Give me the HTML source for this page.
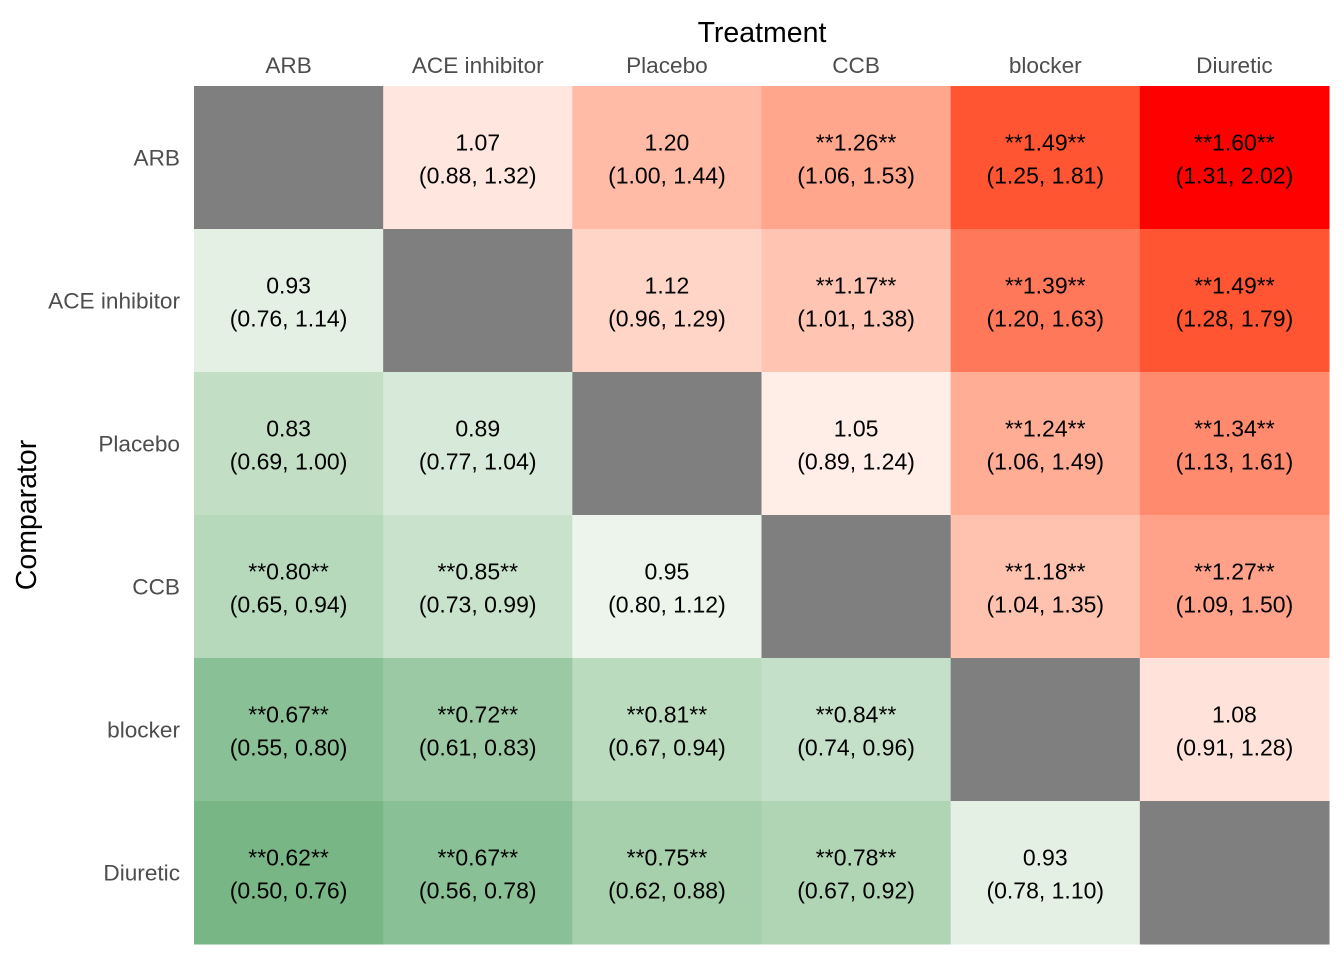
<!DOCTYPE html>
<html><head><meta charset="utf-8"><style>
body{margin:0;background:#fff;width:1344px;height:960px;overflow:hidden}
svg text{font-family:"Liberation Sans",Arial,sans-serif}
</style></head><body>
<svg id="chart" width="1344" height="960" xmlns="http://www.w3.org/2000/svg">
<text x="762" y="42" font-size="28.5" text-anchor="middle" fill="#000">Treatment</text>
<text transform="translate(36,515) rotate(-90)" font-size="28.5" text-anchor="middle" fill="#000">Comparator</text>
<g id="cells"></g>
</svg>
<script>
const categories = ["ARB","ACE inhibitor","Placebo","CCB","blocker","Diuretic"];
const estimates = [
 [null,1.07,1.20,1.26,1.49,1.60],
 [0.93,null,1.12,1.17,1.39,1.49],
 [0.83,0.89,null,1.05,1.24,1.34],
 [0.80,0.85,0.95,null,1.18,1.27],
 [0.67,0.72,0.81,0.84,null,1.08],
 [0.62,0.67,0.75,0.78,0.93,null]];
const lowers = [
 [null,0.88,1.00,1.06,1.25,1.31],
 [0.76,null,0.96,1.01,1.20,1.28],
 [0.69,0.77,null,0.89,1.06,1.13],
 [0.65,0.73,0.80,null,1.04,1.09],
 [0.55,0.61,0.67,0.74,null,0.91],
 [0.50,0.56,0.62,0.67,0.78,null]];
const uppers = [
 [null,1.32,1.44,1.53,1.81,2.02],
 [1.14,null,1.29,1.38,1.63,1.79],
 [1.00,1.04,null,1.24,1.49,1.61],
 [0.94,0.99,1.12,null,1.35,1.50],
 [0.80,0.83,0.94,0.96,null,1.28],
 [0.76,0.78,0.88,0.92,1.10,null]];

const X0=194, Y0=86, CW=189.17, CH=143;
function xPos(i){return X0+i*CW;}
function yPos(i){return Y0+i*CH;}
const stopV=[0.62,0.80,0.93,1.0,1.07,1.20,1.49,1.60];
const stopC=[[120,182,134],[183,217,187],[229,240,229],[255,255,255],[255,230,222],[255,187,165],[255,85,51],[255,0,0]];
function color(v){
 if(v<=stopV[0])return "rgb("+stopC[0]+")";
 if(v>=stopV[stopV.length-1])return "rgb("+stopC[stopC.length-1]+")";
 for(let k=0;k<stopV.length-1;k++){
  if(v>=stopV[k]&&v<=stopV[k+1]){
   const t=(v-stopV[k])/(stopV[k+1]-stopV[k]);
   const c=stopC[k].map((a,j)=>Math.round(a+(stopC[k+1][j]-a)*t));
   return "rgb("+c+")";
  }
 }
}
const NS="http://www.w3.org/2000/svg";
const svg=document.getElementById('chart');
const g=document.getElementById('cells');
categories.forEach((c,i)=>{
 const t=document.createElementNS(NS,'text');
 t.setAttribute('x',xPos(i)+CW/2);t.setAttribute('y',73);
 t.setAttribute('font-size','22.6');t.setAttribute('text-anchor','middle');t.setAttribute('fill','#4d4d4d');
 t.textContent=c;
 
 
 svg.appendChild(t);
 const r=document.createElementNS(NS,'text');
 r.setAttribute('x',180);r.setAttribute('y',yPos(i)+CH/2+8);
 r.setAttribute('font-size','22.6');r.setAttribute('text-anchor','end');r.setAttribute('fill','#4d4d4d');
 r.textContent=c;
 
 
 svg.appendChild(r);
});
for(let r=0;r<6;r++)for(let c=0;c<6;c++){
 const v=estimates[r][c];
 const rect=document.createElementNS(NS,'rect');
 rect.setAttribute('x',xPos(c));rect.setAttribute('y',yPos(r));
 rect.setAttribute('width',CW+0.5);rect.setAttribute('height',CH+0.5);
 rect.setAttribute('fill',v==null?'#7f7f7f':color(v));
 
 
 g.appendChild(rect);
 if(v==null)continue;
 const lo=lowers[r][c],hi=uppers[r][c];
 const sig=lo>1||hi<1;
 const t1=document.createElementNS(NS,'text');
 t1.setAttribute('x',xPos(c)+CW/2);t1.setAttribute('y',yPos(r)+CH/2-7);
 t1.setAttribute('font-size','23');t1.setAttribute('text-anchor','middle');
 t1.textContent=sig?'**'+v.toFixed(2)+'**':v.toFixed(2);
 
 
 g.appendChild(t1);
 const t2=document.createElementNS(NS,'text');
 t2.setAttribute('x',xPos(c)+CW/2);t2.setAttribute('y',yPos(r)+CH/2+26);
 t2.setAttribute('font-size','23');t2.setAttribute('text-anchor','middle');
 t2.textContent='('+lo.toFixed(2)+', '+hi.toFixed(2)+')';
 
 
 g.appendChild(t2);
}
</script>
</body></html>
